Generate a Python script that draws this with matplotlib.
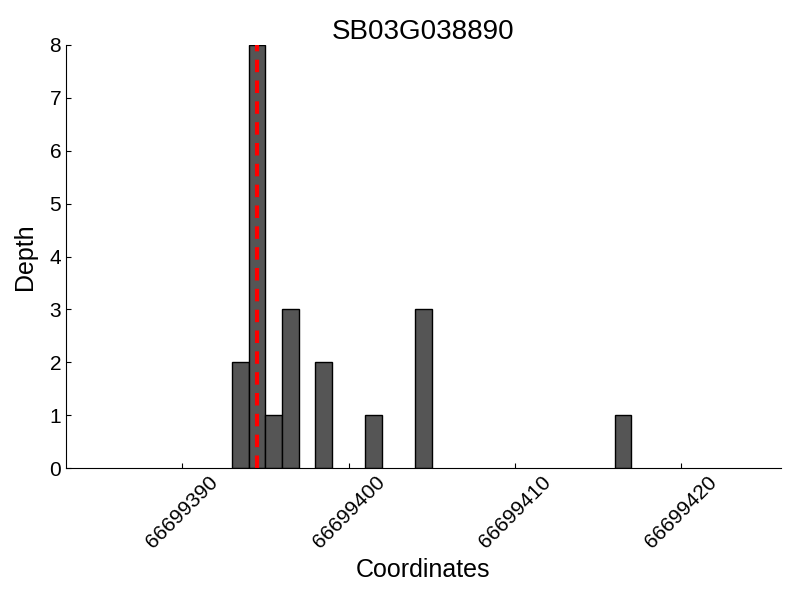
import numpy as np
import matplotlib.pyplot as plt
from matplotlib.ticker import ScalarFormatter

plt.rcParams['font.family'] = ['Liberation Sans', 'DejaVu Sans']

TITLE = 'SB03G038890'
positions = [66699393, 66699394, 66699395, 66699396, 66699398,
             66699401, 66699404, 66699416]
depths = [2, 8, 1, 3, 2, 1, 3, 1]
site = 66699394.5
x_ticks = [66699390, 66699400, 66699410, 66699420]

fig = plt.figure(figsize=(8, 6), dpi=100)
ax = fig.add_axes([0.0825, 0.22, 0.8935, 0.705])

ax.bar(positions, depths, width=1.0, align='edge',
       color='#555555', edgecolor='black', linewidth=1)
ax.axvline(site, color='red', linestyle='--', linewidth=3, dashes=(3, 2))

ax.set_xlim(66699383, 66699426)
ax.set_ylim(0, 8)
ax.set_xticks(x_ticks)
fmt = ScalarFormatter(useOffset=False)
fmt.set_scientific(False)
ax.xaxis.set_major_formatter(fmt)
plt.setp(ax.get_xticklabels(), rotation=45, ha='center')

ax.spines['top'].set_visible(False)
ax.spines['right'].set_visible(False)
ax.tick_params(direction='in', labelsize=15, top=False, right=False)

ax.set_xlabel('Coordinates', fontsize=18)
ax.set_ylabel('Depth', fontsize=18, labelpad=9)
ax.set_title(TITLE, fontsize=20, pad=4)

fig.savefig('out.png', dpi=100)
